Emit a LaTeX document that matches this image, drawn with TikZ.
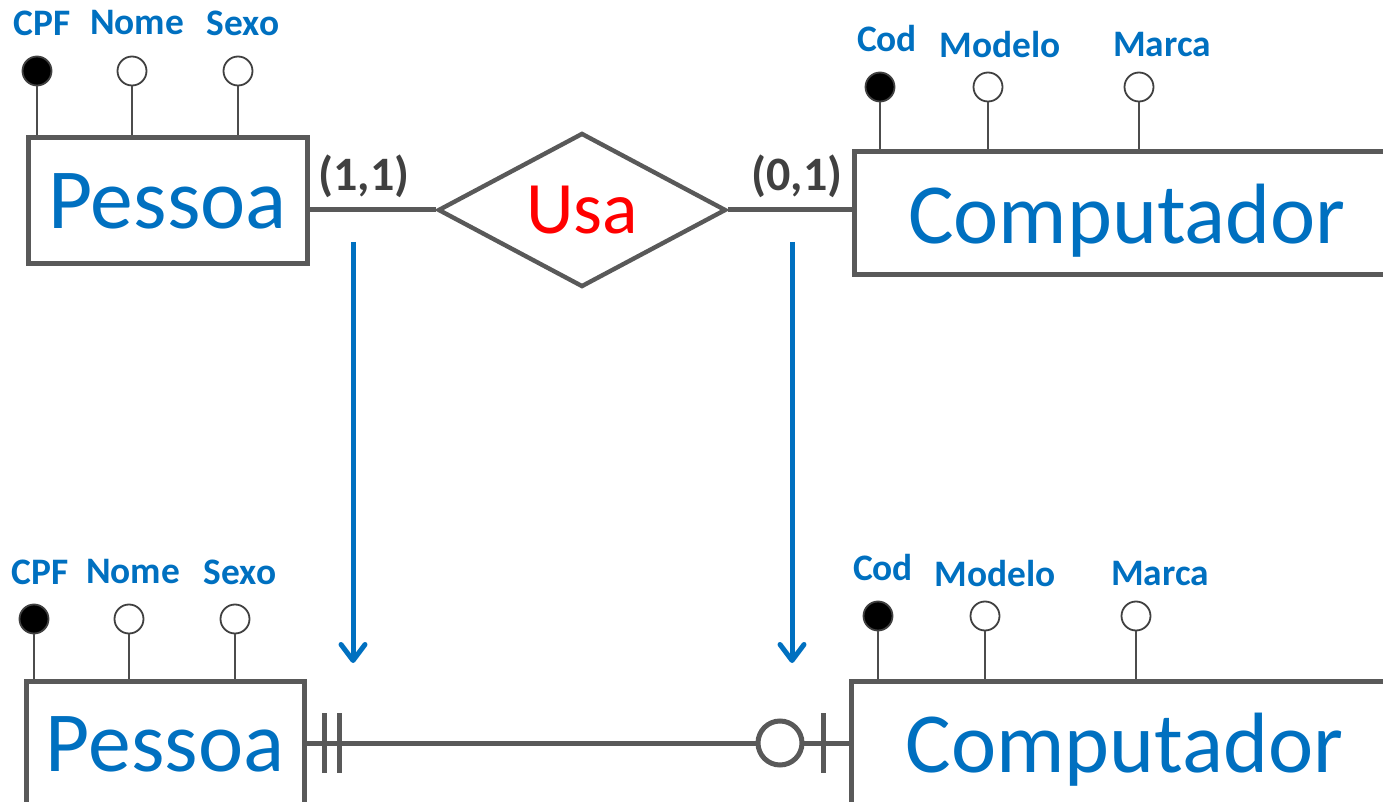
\documentclass[tikz,border=0pt]{standalone}
\usepackage{fontspec}
\setmainfont{Carlito}
\usetikzlibrary{shapes.geometric,arrows.meta}
\definecolor{erblue}{RGB}{0,112,192}
\definecolor{ergray}{RGB}{89,89,89}
\definecolor{cardgray}{RGB}{64,64,64}

\begin{document}
\begin{tikzpicture}[x=0.5pt,y=-0.5pt,
    entity/.style={draw=ergray,line width=2.5pt,fill=white,text=erblue,inner sep=0pt,text depth=0pt,font=\fontsize{42.8}{42.8}\selectfont},
    rel/.style={diamond,draw=ergray,line width=2.2pt,aspect=1.87,inner sep=0pt,minimum width=144pt,minimum height=77pt,text=red,font=\fontsize{37}{37}\selectfont},
    attr/.style={circle,draw=black!75,line width=0.9pt,minimum size=14.5pt,inner sep=0pt,fill=white},
    key/.style={attr,fill=black},
    attrname/.style={text=erblue,inner sep=0pt,font=\bfseries\fontsize{18.7}{18.7}\selectfont},
    card/.style={text=cardgray,inner sep=0pt,font=\bfseries\fontsize{24}{24}\selectfont},
    link/.style={draw=ergray,line width=2.5pt},
    stem/.style={draw=black!70,line width=0.9pt},
    conv/.style={draw=erblue,line width=2.5pt,-{Straight Barb[length=8pt,width=12pt,round]}}]
   %\draw[help lines] (0,0) grid[step=50] (1383,802);
    \useasboundingbox (0,0) rectangle (1383,802);
    \clip (0,0) rectangle (1383,802);

    % conceitual
    \node[entity,minimum width=139.5pt,minimum height=63pt] (pessoa) at (167.5,201) {Pessoa};
    \node[entity,minimum width=273pt,minimum height=61.5pt] (comp) at (1127,213.5) {Computador};
    \node[rel] (usa) at (582,210) {Usa};
    \draw[link] (pessoa.east |- usa.west) -- (usa.west);
    \draw[link] (usa.east) -- (comp.west |- usa.east);
    \node[card] (card11) at (364,176) {(1,1)};
    \node[card] (card01) at (797,176) {(0,1)};

    \node[key] (cpf) at (37,71) {};
    \node[attr] (nome) at (132,71) {};
    \node[attr] (sexo) at (238,71) {};
    \draw[stem] (cpf.south) -- (cpf.south |- pessoa.north);
    \draw[stem] (nome.south) -- (nome.south |- pessoa.north);
    \draw[stem] (sexo.south) -- (sexo.south |- pessoa.north);
    \node[attrname] (cpflbl) at (42,23) {CPF};
    \node[attrname] (nomelbl) at (137,23) {Nome};
    \node[attrname] (sexolbl) at (243,23) {Sexo};

    \node[key] (cod) at (880,87) {};
    \node[attr] (modelo) at (988,87) {};
    \node[attr] (marca) at (1139,87) {};
    \draw[stem] (cod.south) -- (cod.south |- comp.north);
    \draw[stem] (modelo.south) -- (modelo.south |- comp.north);
    \draw[stem] (marca.south) -- (marca.south |- comp.north);
    \node[attrname] (codlbl) at (887,39) {Cod};
    \node[attrname] (modelolbl) at (1000,45) {Modelo};
    \node[attrname] (marcalbl) at (1162,45) {Marca};

    % passagem
    \coordinate (ida1) at (353,242);
    \coordinate (volta1) at (353,663);
    \coordinate (ida2) at (792,242);
    \coordinate (volta2) at (792,663);
    \draw[conv] (ida1) -- (volta1);
    \draw[conv] (ida2) -- (volta2);

    % logico
    \node[entity,minimum width=139pt,minimum height=63pt] (pessoab) at (165,744) {Pessoa};
    \node[entity,minimum width=273.5pt,minimum height=61.5pt] (compb) at (1124.5,742.5) {Computador};
    \draw[link] (pessoab.east |- 0,743) -- (compb.west |- 0,743);
    \coordinate (um1) at (324,743);
    \coordinate (um2) at (339,743);
    \coordinate (um3) at (823,743);
    \draw[link] ([yshift=15pt]um1) -- ([yshift=-15pt]um1);
    \draw[link] ([yshift=15pt]um2) -- ([yshift=-15pt]um2);
    \draw[link] ([yshift=15pt]um3) -- ([yshift=-15pt]um3);
    \node[circle,draw=ergray,line width=2.5pt,fill=white,minimum size=22pt,inner sep=0pt] (zero) at (780,743) {};

    \node[key] (cpfb) at (34,619) {};
    \node[attr] (nomeb) at (129,619) {};
    \node[attr] (sexob) at (235,619) {};
    \draw[stem] (cpfb.south) -- (cpfb.south |- pessoab.north);
    \draw[stem] (nomeb.south) -- (nomeb.south |- pessoab.north);
    \draw[stem] (sexob.south) -- (sexob.south |- pessoab.north);
    \node[attrname] (cpfblbl) at (40,572) {CPF};
    \node[attrname] (nomeblbl) at (133,572) {Nome};
    \node[attrname] (sexoblbl) at (240,572) {Sexo};

    \node[key] (codb) at (878,616) {};
    \node[attr] (modelob) at (985,616) {};
    \node[attr] (marcab) at (1136,616) {};
    \draw[stem] (codb.south) -- (codb.south |- compb.north);
    \draw[stem] (modelob.south) -- (modelob.south |- compb.north);
    \draw[stem] (marcab.south) -- (marcab.south |- compb.north);
    \node[attrname] (codblbl) at (883,568) {Cod};
    \node[attrname] (modeloblbl) at (995,574) {Modelo};
    \node[attrname] (marcablbl) at (1160,574) {Marca};
\end{tikzpicture}
\end{document}
